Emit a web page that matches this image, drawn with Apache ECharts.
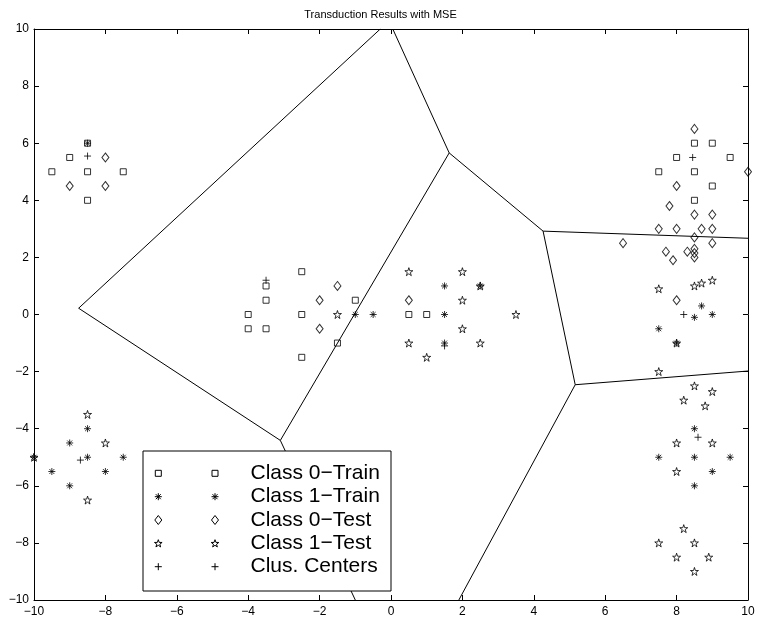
<!DOCTYPE html>
<html>
<head>
<meta charset="utf-8">
<script src="https://cdn.jsdelivr.net/npm/echarts@6/dist/echarts.min.js"></script>
<style>
html,body{margin:0;padding:0;background:#fff;}
#chart{width:761px;height:625px;}
</style>
</head>
<body>
<div id="chart"></div>
<script>
// ---- data ----
const titleText = 'Transduction Results with MSE';
const seriesNames = ['Class 0\u2212Train', 'Class 1\u2212Train', 'Class 0\u2212Test', 'Class 1\u2212Test', 'Clus. Centers'];
const xTicks = [-10, -8, -6, -4, -2, 0, 2, 4, 6, 8, 10];
const yTicks = [-10, -8, -6, -4, -2, 0, 2, 4, 6, 8, 10];

const class0Train = [
  [-8.5,6],[-9,5.5],[-9.5,5],[-8.5,5],[-7.5,5],[-8.5,4],
  [-2.5,1.5],[-3.5,1],[-3.5,0.5],[-1,0.5],[-4,0],[-2.5,0],[0.5,0],[1,0],[-4,-0.5],[-3.5,-0.5],[-1.5,-1],[-2.5,-1.5],
  [8.5,6],[9,6],[8,5.5],[9.5,5.5],[7.5,5],[8.5,5],[9,4.5],[8.5,4]
];
const class1Train = [
  [-8.5,6],[-1,0],[-0.5,0],[1.5,1],[2.5,1],[1.5,0],[1.5,-1],
  [8.7,0.3],[8.5,-0.1],[9,0],[7.5,-0.5],[8,-1],
  [8.5,-4],[7.5,-5],[8.5,-5],[9.5,-5],[9,-5.5],[8.5,-6],
  [-8.5,-4],[-9,-4.5],[-8.5,-5],[-7.5,-5],[-9.5,-5.5],[-8,-5.5],[-9,-6],[-10,-5]
];
const class0Test = [
  [-8,5.5],[-9,4.5],[-8,4.5],
  [-1.5,1],[-2,0.5],[-2,-0.5],[0.5,0.5],
  [8.5,6.5],[10,5],[8,4.5],[7.8,3.8],[8.5,3.5],[9,3.5],[7.5,3],[8,3],[8.7,3],[9,3],[8.5,2.7],[9,2.5],[6.5,2.5],
  [7.7,2.2],[7.9,1.9],[8.3,2.2],[8.5,2.3],[8.5,2.15],[8.5,2.0],[8,0.5]
];
const class1Test = [
  [-1.5,0],[0.5,1.5],[2,1.5],[2.5,1],[2,0.5],[3.5,0],[2,-0.5],[0.5,-1],[2.5,-1],[1,-1.5],
  [7.5,0.9],[8.5,1.0],[8.7,1.1],[9,1.2],[8,-1],[7.5,-2],[8.5,-2.5],[9,-2.7],[8.2,-3],[8.8,-3.2],
  [8,-4.5],[9,-4.5],[8,-5.5],[8.2,-7.5],[7.5,-8],[8.5,-8],[8,-8.5],[8.9,-8.5],[8.5,-9],
  [-8.5,-3.5],[-8,-4.5],[-10,-5],[-8.5,-6.5]
];
const clusCenters = [
  [-8.5,5.55],[-3.5,1.2],[1.5,-1.1],[8.45,5.5],[8.2,0],[8.6,-4.3],[-8.7,-5.1]
];
// Voronoi edges (data coordinates)
const voronoiEdges = [
  [[-8.75,0.22],[-0.3,10]],
  [[1.63,5.66],[0.05,10]],
  [[-8.75,0.22],[-3.1,-4.41]],
  [[1.63,5.66],[-3.1,-4.41]],
  [[1.63,5.66],[4.26,2.92]],
  [[4.26,2.92],[10,2.67]],
  [[4.26,2.92],[5.16,-2.46]],
  [[5.16,-2.46],[10,-1.98]],
  [[-3.1,-4.41],[-1.0,-10]],
  [[5.16,-2.46],[1.9,-10]]
];

// ---- styles ----
const FONT = '"Liberation Sans", Arial, Helvetica, sans-serif';
const STAR = 'path://M0,-100L22.45,-30.9L95.1,-30.9L36.3,11.8L58.8,80.9L0,38.2L-58.8,80.9L-36.3,11.8L-95.1,-30.9L-22.45,-30.9Z';
const SQUARE = 'path://M0,0H10V10H0Z';
const DIAMOND = 'path://M5,0L10,7L5,14L0,7Z';
const ASTER = 'path://M5,0V10M0,5H10M1.5,1.5L8.5,8.5M8.5,1.5L1.5,8.5';
const PLUS = 'path://M5,0V10M0,5H10';
const markerStyle = {color:'rgba(0,0,0,0)', borderColor:'#000', borderWidth:1};

function scatter(name, data, symbol, size) {
  return {
    name, type:'scatter', data, symbol, symbolSize:size,
    itemStyle: markerStyle, silent:true, z:3, clip:false,
    emphasis:{disabled:true}
  };
}
const minus = v => String(v).replace('-', '\u2212');

const axisCommon = {
  type:'value', min:-10, max:10, interval:2,
  splitLine:{show:false},
  axisLine:{show:true, onZero:false, lineStyle:{color:'#000', width:1}},
  axisTick:{show:true, inside:true, length:5, lineStyle:{color:'#000'}},
};

// legend drawn as graphic
const legX = 143, legY = 451, legW = 248, legH = 140;
const rowY = [473.3, 496.7, 520, 543.3, 566.7];
const mk1 = 158.3, mk2 = 215;
function seg(x1, y1, x2, y2) {
  return {type:'line', shape:{x1, y1, x2, y2}, style:{stroke:'#000', lineWidth:1}, z:11};
}
function legMarker(kind, cx, cy) {
  const st = {fill:'none', stroke:'#000', lineWidth:1};
  if (kind === 0) return [{type:'rect', shape:{x:cx-3, y:cy-3, width:6, height:6}, style:st, z:11}];
  if (kind === 1) return [seg(cx, cy-3.5, cx, cy+3.5), seg(cx-3.5, cy, cx+3.5, cy),
                          seg(cx-2.5, cy-2.5, cx+2.5, cy+2.5), seg(cx+2.5, cy-2.5, cx-2.5, cy+2.5)];
  if (kind === 2) return [{type:'polygon', shape:{points:[[cx,cy-4.5],[cx+3.5,cy],[cx,cy+4.5],[cx-3.5,cy]]}, style:st, z:11}];
  if (kind === 3) {
    const pts = [];
    for (let k = 0; k < 10; k++) {
      const r = (k % 2 === 0) ? 4 : 1.6;
      const a = (-90 + k*36) * Math.PI/180;
      pts.push([cx + r*Math.cos(a), cy + 0.4 + r*Math.sin(a)]);
    }
    return [{type:'polygon', shape:{points:pts}, style:st, z:11}];
  }
  return [seg(cx, cy-3.5, cx, cy+3.5), seg(cx-3.5, cy, cx+3.5, cy)];
}
const legendGraphics = [
  {type:'rect', shape:{x:legX, y:legY, width:legW, height:legH}, style:{fill:'#fff', stroke:'#000', lineWidth:1}, z:10}
];
seriesNames.forEach((n, i) => {
  legendGraphics.push(...legMarker(i, mk1, rowY[i]));
  legendGraphics.push(...legMarker(i, mk2, rowY[i]));
  legendGraphics.push({type:'text', x:250.5, y:rowY[i], z:11,
    style:{text:n, font:'21px ' + FONT, fill:'#000', textVerticalAlign:'middle', textAlign:'left'}});
});

const option = {
  animation:false,
  backgroundColor:'#fff',
  title:{text:titleText, left:'center', top:4,
    textStyle:{fontSize:11, fontWeight:'normal', color:'#000', fontFamily:FONT}},
  grid:{left:34, right:13, top:29, bottom:25, containLabel:false},
  xAxis:[
    Object.assign({}, axisCommon, {position:'bottom',
      axisLabel:{show:true, margin:6, fontSize:12, color:'#000', fontFamily:FONT, formatter:minus,
        customValues: xTicks}}),
    Object.assign({}, axisCommon, {position:'top', axisLabel:{show:false}})
  ],
  yAxis:[
    Object.assign({}, axisCommon, {position:'left',
      axisLabel:{show:true, margin:5, fontSize:12, color:'#000', fontFamily:FONT, formatter:minus,
        customValues: yTicks}}),
    Object.assign({}, axisCommon, {position:'right', axisLabel:{show:false}})
  ],
  series:[
    {
      type:'lines', coordinateSystem:'cartesian2d', silent:true, z:2,
      lineStyle:{color:'#000', width:1, opacity:1},
      data: voronoiEdges.map(e => ({coords:e}))
    },
    scatter(seriesNames[0], class0Train, SQUARE, 6),
    scatter(seriesNames[1], class1Train, ASTER, 7),
    scatter(seriesNames[2], class0Test, DIAMOND, [7,9]),
    scatter(seriesNames[3], class1Test, STAR, [8,8]),
    scatter(seriesNames[4], clusCenters, PLUS, 7)
  ],
  graphic: legendGraphics
};

const chart = echarts.init(document.getElementById('chart'), null, {renderer:'canvas'});
chart.setOption(option);
</script>
</body>
</html>
